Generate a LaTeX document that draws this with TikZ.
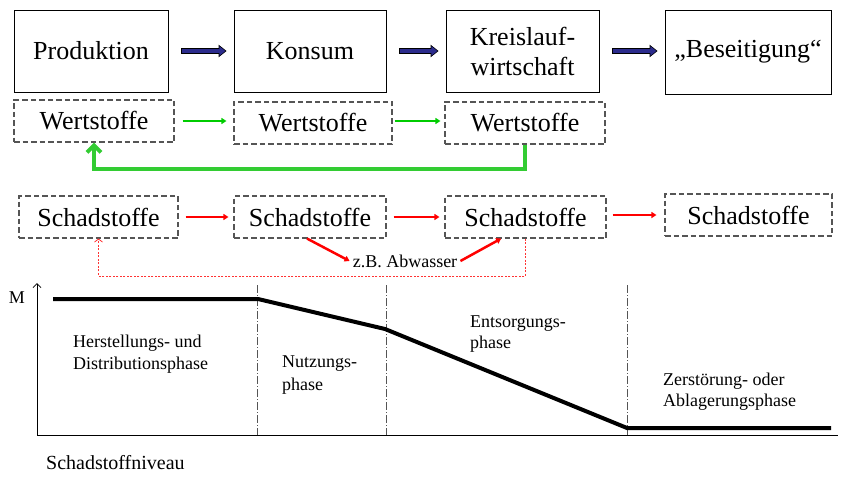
\documentclass[tikz,border=0pt]{standalone}
\usepackage{fontspec}
\setmainfont{LiberationSerif}[Extension=.ttf,UprightFont=*-Regular,BoldFont=*-Bold,ItalicFont=*-Italic,BoldItalicFont=*-BoldItalic]
\usetikzlibrary{arrows.meta,calc}
\definecolor{navyarrow}{HTML}{2B2B8C}
\definecolor{gthin}{HTML}{00CC00}
\definecolor{gthick}{HTML}{33CC33}
\definecolor{redline}{HTML}{FF0000}
\definecolor{dashgray}{HTML}{555555}
\begin{document}
\begin{tikzpicture}[x=1pt,y=-1pt,
  solidbox/.style={draw=black, line width=0.8pt, rectangle, inner sep=0pt, align=center,
    font=\fontsize{26}{30}\selectfont},
  dashbox/.style={draw=dashgray, line width=1.1pt, dash pattern=on 5.5pt off 3pt, rectangle,
    inner sep=0pt, font=\fontsize{26}{30}\selectfont},
  bluearrowout/.style={line width=6pt, black, -{Triangle[length=8pt,width=12pt]}},
  bluearrowin/.style={line width=4pt, navyarrow, -{Triangle[length=6pt,width=9pt]}},
  greenarrow/.style={gthin, line width=2.5pt, -{Triangle[length=5pt,width=6pt]}},
  redarrow/.style={redline, line width=2.5pt, -{Triangle[length=5pt,width=6pt]}},
  chartlabel/.style={anchor=base west, inner sep=0pt, font=\fontsize{18}{22}\selectfont},
  phaseline/.style={dashgray, line width=0.7pt, dash pattern=on 8pt off 2pt on 1pt off 2pt}
]
\useasboundingbox (0,0) rectangle (845,476);

% top row
\node[solidbox, minimum width=154pt, minimum height=82pt] (P) at (91,51) {Produktion};
\node[solidbox, minimum width=152pt, minimum height=82pt] (K) at (310,51) {Konsum};
\node[solidbox, minimum width=153pt, minimum height=82pt] (KW) at (522.5,51) {Kreislauf-\\wirtschaft};
\node[solidbox, minimum width=166pt, minimum height=84pt] (B) at (748,52) {„Beseitigung“};

\foreach \a/\b in {P/K, K/KW, KW/B}{
  \draw[bluearrowout, shorten <=13pt, shorten >=7pt] (\a.east) -- (\b.west |- \a.east);
  \draw[bluearrowin, shorten <=14pt, shorten >=8.2pt] (\a.east) -- (\b.west |- \a.east);
}

% Wertstoffe
\node[dashbox, minimum width=160pt, minimum height=42pt] (W1) at (94,121) {Wertstoffe};
\node[dashbox, minimum width=158pt, minimum height=42pt] (W2) at (313,123) {Wertstoffe};
\node[dashbox, minimum width=160pt, minimum height=42pt] (W3) at (525,123) {Wertstoffe};
\draw[greenarrow, shorten <=8pt, shorten >=7pt] (W1.east) -- (W2.west |- W1.east);
\draw[greenarrow, shorten <=2pt, shorten >=4pt] (W2.east |- W1.east) -- (W3.west |- W1.east);
\coordinate (gl) at (0,169);
\draw[gthick, line width=4pt, -{Straight Barb[length=7pt,width=14pt]}]
  (W3.south) -- (W3.south |- gl) -| (W1.south);

% Schadstoffe
\node[dashbox, minimum width=159pt, minimum height=42pt] (S1) at (98.5,217) {Schadstoffe};
\node[dashbox, minimum width=152pt, minimum height=42pt] (S2) at (310,217) {Schadstoffe};
\node[dashbox, minimum width=161pt, minimum height=42pt] (S3) at (525.5,217) {Schadstoffe};
\node[dashbox, minimum width=167pt, minimum height=42pt] (S4) at (748.5,215) {Schadstoffe};
\draw[redarrow, shorten <=7pt, shorten >=5pt] (S1.east) -- (S2.west |- S1.east);
\draw[redarrow, shorten <=7pt, shorten >=5pt] (S2.east) -- (S3.west |- S2.east);
\draw[redarrow, shorten <=6pt, shorten >=8pt] (S3.east |- S4.east) -- (S4.west);

\node[font=\fontsize{18}{21}\selectfont, inner sep=3pt] (ab) at (405,261) {z.B. Abwasser};
\draw[redarrow] ($(S2.south)+(-3,0)$) -- (ab.west);
\draw[redarrow] (ab.east) -- ($(S3.south west)!0.35!(S3.south east)$);

\coordinate (rl) at (0,276);
\draw[red!80, line width=0.8pt, dash pattern=on 2pt off 1.5pt, -{Straight Barb[length=3pt,width=8pt]}]
  (S3.south) -- (S3.south |- rl) -| (S1.south);

% chart
\coordinate (O) at (37,435);
\coordinate (Ytop) at (37,283);
\coordinate (Xend) at (838,435);
\draw[line width=0.8pt, -{Straight Barb[length=4pt,width=8pt]}] (O) -- (Ytop);
\draw[line width=0.8pt] (O) -- (Xend);
\node[font=\fontsize{18}{22}\selectfont, inner sep=0pt] (M) at (17,298) {M};

\foreach \x/\n in {257/a, 386/b, 627/c}{
  \coordinate (v\n t) at (\x,285);
  \coordinate (v\n b) at (\x,435);
  \draw[phaseline] (v\n t) -- (v\n b);
}

\coordinate (c1) at (53,299);
\coordinate (c2) at (258,299);
\coordinate (c3) at (385,329);
\coordinate (c4) at (627,428);
\coordinate (c5) at (831,428);
\draw[line width=4pt] (c1) -- (c2) -- (c3) -- (c4) -- (c5);

\node[chartlabel] (h1) at (73,347) {Herstellungs- und};
\node[chartlabel] (h2) at (73,369) {Distributionsphase};
\node[chartlabel] (n1) at (282,367) {Nutzungs-};
\node[chartlabel] (n2) at (282,390) {phase};
\node[chartlabel] (e1) at (470,327) {Entsorgungs-};
\node[chartlabel] (e2) at (470,348) {phase};
\node[chartlabel] (z1) at (663,385) {Zerstörung- oder};
\node[chartlabel] (z2) at (663,406) {Ablagerungsphase};

\node[anchor=base west, inner sep=0pt, font=\fontsize{20}{24}\selectfont] (sn) at (46,469) {Schadstoffniveau};
\end{tikzpicture}
\end{document}
